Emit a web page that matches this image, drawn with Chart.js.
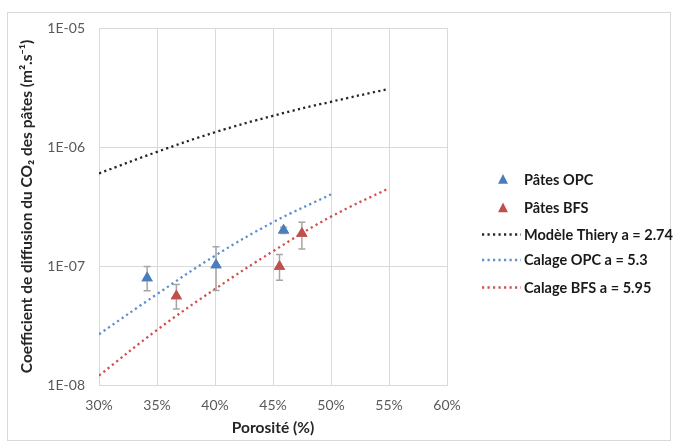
<!DOCTYPE html>
<html>
<head>
<meta charset="utf-8">
<script src="https://cdn.jsdelivr.net/npm/chart.js@4/dist/chart.umd.min.js"></script>
<style>
  html, body { margin: 0; padding: 0; background: #ffffff; }
  #wrap { width: 677px; height: 448px; position: relative; }
</style>
</head>
<body>
<div id="wrap"><canvas id="c" width="677" height="448"></canvas></div>
<script>
// ---- Data ----
const xTickValues = [30, 35, 40, 45, 50, 55, 60];
const xTickLabels = ['30%', '35%', '40%', '45%', '50%', '55%', '60%'];
const yTickValues = [1e-8, 1e-7, 1e-6, 1e-5];
const yTickLabels = ['1E-08', '1E-07', '1E-06', '1E-05'];

const opcPorosity = [34.15, 40.09, 45.91];
const opcD        = [7.94e-8, 1.02e-7, 2.0e-7];
const opcErrHigh  = [9.9e-8, 1.45e-7, 2.12e-7];
const opcErrLow   = [6.18e-8, 6.21e-8, 1.88e-7];

const bfsPorosity = [36.67, 45.56, 47.49];
const bfsD        = [5.6e-8, 9.9e-8, 1.88e-7];
const bfsErrHigh  = [7.0e-8, 1.25e-7, 2.33e-7];
const bfsErrLow   = [4.35e-8, 7.6e-8, 1.39e-7];

const thieryX = [30, 35, 40, 45, 50, 55];
const thieryY = [6.0e-7, 9.1e-7, 1.33e-6, 1.83e-6, 2.40e-6, 3.08e-6];

const opcFitX = [30, 35, 40, 45, 50];
const opcFitY = [2.67e-8, 5.8e-8, 1.22e-7, 2.33e-7, 4.0e-7];

const bfsFitX = [30, 35, 40, 45, 50, 55];
const bfsFitY = [1.2e-8, 2.9e-8, 6.4e-8, 1.33e-7, 2.6e-7, 4.5e-7];

const seriesNames = ['Pâtes OPC', 'Pâtes BFS', 'Modèle Thiery a = 2.74', 'Calage OPC a = 5.3', 'Calage BFS a = 5.95'];

// ---- Styles ----
const BLUE = '#4a7ebb';
const RED = '#c0504d';
const BLUE_LINE = '#5b8fd0';
const RED_LINE = '#d0504d';
const BLACK_LINE = '#262626';
const FONT = 'Lato, "Open Sans", "Liberation Sans", sans-serif';

const pts = (xs, ys) => xs.map((x, i) => ({ x: x, y: ys[i] }));

const errorBars = {
  id: 'errorBars',
  afterDatasetsDraw(chart) {
    const ctx = chart.ctx;
    const xs = chart.scales.x, ys = chart.scales.y;
    const sets = [
      [opcPorosity, opcErrLow, opcErrHigh],
      [bfsPorosity, bfsErrLow, bfsErrHigh]
    ];
    ctx.save();
    ctx.strokeStyle = '#a6a6a6';
    ctx.lineWidth = 1.5;
    sets.forEach(([px, lo, hi]) => {
      px.forEach((p, i) => {
        const x = xs.getPixelForValue(p);
        const y1 = ys.getPixelForValue(lo[i]);
        const y2 = ys.getPixelForValue(hi[i]);
        ctx.beginPath();
        ctx.moveTo(x, y1); ctx.lineTo(x, y2);
        ctx.moveTo(x - 3.5, y1); ctx.lineTo(x + 3.5, y1);
        ctx.moveTo(x - 3.5, y2); ctx.lineTo(x + 3.5, y2);
        ctx.stroke();
      });
    });
    ctx.restore();
    [0, 1].forEach(di => {
      const meta = chart.getDatasetMeta(di);
      meta.data.forEach(el => el.draw(ctx, chart.chartArea));
    });
  }
};

const frameAndLegend = {
  id: 'frameAndLegend',
  beforeDraw(chart) {
    const ctx = chart.ctx;
    ctx.save();
    ctx.fillStyle = '#ffffff';
    ctx.fillRect(0, 0, chart.width, chart.height);
    ctx.strokeStyle = '#d9d9d9';
    ctx.lineWidth = 1;
    ctx.strokeRect(7.5, 12.5, 663, 428);
    ctx.restore();
  },
  afterDraw(chart) {
    const ctx = chart.ctx;
    ctx.save();
    const rowsY = [179.5, 208, 234.5, 260, 287.5];
    const textX = 524;
    ctx.font = 'bold 14.5px ' + FONT;
    ctx.textBaseline = 'middle';
    chart.data.datasets.forEach((ds, i) => {
      const y = rowsY[i];
      if (i < 2) {
        const cx = 503, r = 5.5;
        ctx.fillStyle = ds.backgroundColor;
        ctx.beginPath();
        ctx.moveTo(cx, y - r);
        ctx.lineTo(cx + r * 0.9, y + r * 0.75);
        ctx.lineTo(cx - r * 0.9, y + r * 0.75);
        ctx.closePath();
        ctx.fill();
      } else {
        ctx.strokeStyle = ds.borderColor;
        ctx.lineWidth = ds.borderWidth;
        ctx.setLineDash(ds.borderDash);
        ctx.beginPath();
        ctx.moveTo(482, y); ctx.lineTo(521, y);
        ctx.stroke();
        ctx.setLineDash([]);
      }
      ctx.fillStyle = '#1a1a1a';
      ctx.fillText(ds.label, textX, y + 0.5);
    });
    ctx.restore();
  }
};

const lineDash = [2.2, 3.3];

new Chart(document.getElementById('c'), {
  type: 'scatter',
  data: {
    datasets: [
      { label: seriesNames[0], data: pts(opcPorosity, opcD), pointStyle: 'triangle', pointRadius: 6.5,
        backgroundColor: BLUE, borderColor: BLUE, borderWidth: 0, showLine: false, order: 0 },
      { label: seriesNames[1], data: pts(bfsPorosity, bfsD), pointStyle: 'triangle', pointRadius: 6.5,
        backgroundColor: RED, borderColor: RED, borderWidth: 0, showLine: false, order: 0 },
      { label: seriesNames[2], data: pts(thieryX, thieryY), showLine: true, pointRadius: 0,
        borderColor: BLACK_LINE, backgroundColor: BLACK_LINE, borderWidth: 2.3, borderDash: lineDash,
        tension: 0.4, order: 1 },
      { label: seriesNames[3], data: pts(opcFitX, opcFitY), showLine: true, pointRadius: 0,
        borderColor: BLUE_LINE, backgroundColor: BLUE_LINE, borderWidth: 2.3, borderDash: lineDash,
        tension: 0.4, order: 1 },
      { label: seriesNames[4], data: pts(bfsFitX, bfsFitY), showLine: true, pointRadius: 0,
        borderColor: RED_LINE, backgroundColor: RED_LINE, borderWidth: 2.3, borderDash: lineDash,
        tension: 0.4, order: 1 }
    ]
  },
  options: {
    responsive: false,
    animation: false,
    devicePixelRatio: 1,
    layout: { padding: { left: 18, right: 230, top: 28, bottom: 11 } },
    plugins: { legend: { display: false }, tooltip: { enabled: false } },
    scales: {
      x: {
        type: 'linear', min: 30, max: 60,
        afterBuildTicks: s => { s.ticks = xTickValues.map(v => ({ value: v })); },
        afterFit: s => { s.height = 52; },
        grid: { color: '#d9d9d9', lineWidth: 1, drawTicks: false },
        border: { color: '#d9d9d9' },
        ticks: {
          padding: 12, color: '#595959', font: { family: FONT, size: 14 },
          callback: v => xTickLabels[xTickValues.indexOf(v)]
        },
        title: { display: true, text: 'Porosité (%)', color: '#262626', padding: 0,
                 font: { family: FONT, size: 15.5, weight: 'bold' } }
      },
      y: {
        type: 'logarithmic', min: 1e-8, max: 1e-5,
        afterBuildTicks: s => { s.ticks = yTickValues.map(v => ({ value: v })); },
        afterFit: s => { s.width = 81; },
        grid: { color: '#d9d9d9', lineWidth: 1, drawTicks: false },
        border: { color: '#d9d9d9' },
        ticks: {
          padding: 14, color: '#595959', font: { family: FONT, size: 14 },
          callback: v => yTickLabels[yTickValues.findIndex(t => Math.abs(Math.log10(t) - Math.log10(v)) < 1e-6)]
        },
        title: { display: true, text: 'Coefficient de diffusion du CO₂ des pâtes (m².s⁻¹)', color: '#262626', padding: 0,
                 font: { family: FONT, size: 15.5, weight: 'bold' } }
      }
    }
  },
  plugins: [errorBars, frameAndLegend]
});
</script>
</body>
</html>
